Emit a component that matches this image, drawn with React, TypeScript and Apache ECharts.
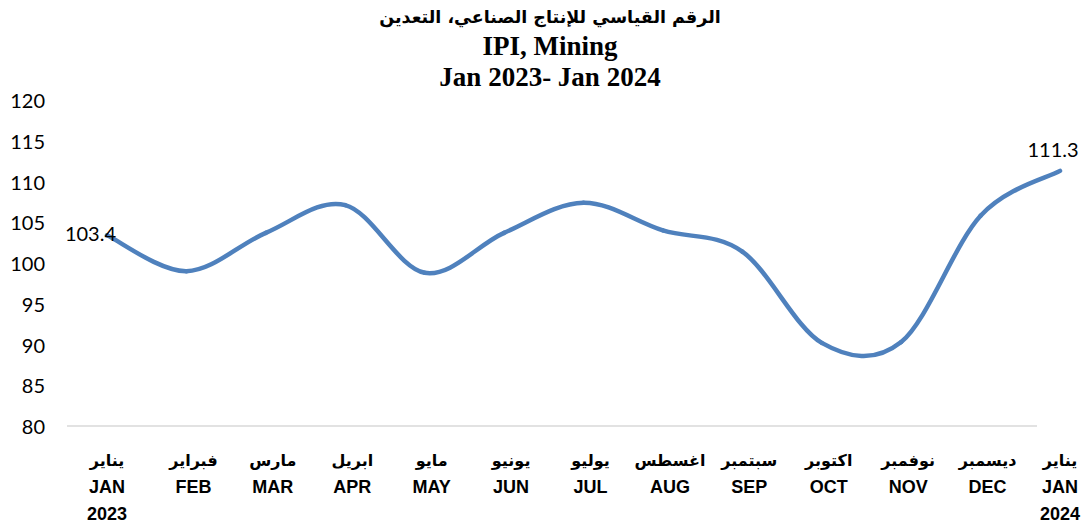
import React, { useEffect, useRef } from "react";
import * as echarts from "echarts";

const monthsAr = ["يناير", "فبراير", "مارس", "ابريل", "مايو", "يونيو", "يوليو", "اغسطس", "سبتمبر", "اكتوبر", "نوفمبر", "ديسمبر", "يناير"];
const monthsEn = ["JAN", "FEB", "MAR", "APR", "MAY", "JUN", "JUL", "AUG", "SEP", "OCT", "NOV", "DEC", "JAN"];
const years = ["2023", "", "", "", "", "", "", "", "", "", "", "", "2024"];
const ipiValues = [103.4, 99.0, 103.7, 107.1, 98.8, 103.7, 107.4, 104.0, 101.4, 90.2, 90.3, 105.8, 111.3];
const yTicks = { min: 80, max: 120, interval: 5 };
const labelledIndices = [0, 12];

const LINE_COLOR = "#4f81bd";

export default function App() {
  const ref = useRef<HTMLDivElement>(null);
  useEffect(() => {
    if (!ref.current) return;
    const chart = echarts.init(ref.current, undefined, { renderer: "svg" });
    const n = ipiValues.length;
    const categories = monthsEn.map((_, i) => ({
      value: `${i}`,
      textStyle: { padding: i === 0 || i === n - 1 ? 0 : [0, 0, 0, 14] },
    }));
    const renderItem = (params: any, api: any) => {
      const i = params.dataIndex;
      const pt = (j: number) => api.coord([Math.max(0, Math.min(n - 1, j)), ipiValues[Math.max(0, Math.min(n - 1, j))]]);
      const children: any[] = [];
      if (i < n - 1) {
        const p0 = pt(i - 1);
        const p1 = pt(i);
        const p2 = pt(i + 1);
        const p3 = pt(i + 2);
        const t = 1 / 6;
        children.push({
          type: "bezierCurve",
          shape: {
            x1: p1[0],
            y1: p1[1],
            x2: p2[0],
            y2: p2[1],
            cpx1: p1[0] + (p2[0] - p0[0]) * t,
            cpy1: p1[1] + (p2[1] - p0[1]) * t,
            cpx2: p2[0] - (p3[0] - p1[0]) * t,
            cpy2: p2[1] - (p3[1] - p1[1]) * t,
          },
          style: { stroke: LINE_COLOR, lineWidth: 4.5, fill: "none", lineCap: "round" },
        });
      }
      if (labelledIndices.includes(i)) {
        const p = pt(i);
        const first = i === 0;
        children.push({
          type: "text",
          x: first ? p[0] + 9 : p[0] - 7,
          y: first ? p[1] - 2 : p[1] - 12,
          style: {
            text: ipiValues[i].toFixed(1),
            fontFamily: "Lato",
            fontSize: 20,
            fill: "#000",
            align: first ? "right" : "center",
            verticalAlign: first ? "middle" : "bottom",
          },
        });
      }
      return { type: "group", children };
    };
    chart.setOption({
      animation: false,
      backgroundColor: "#ffffff",
      title: {
        left: 545,
        textAlign: "center",
        top: -2,
        text: "{ar|الرقم القياسي للإنتاج الصناعي، التعدين}\n{en|IPI, Mining}\n{en|Jan 2023- Jan 2024}",
        textStyle: {
          rich: {
            ar: { fontFamily: "DejaVu Sans", fontWeight: "bold", fontSize: 17.5, color: "#000", lineHeight: 27 },
            en: { fontFamily: "Liberation Serif", fontWeight: "bold", fontSize: 27, color: "#000", lineHeight: 31 },
          },
        },
      },
      grid: { left: 107, right: 29, top: 100, bottom: 103, containLabel: false },
      xAxis: {
        type: "category",
        data: categories,
        boundaryGap: false,
        axisLine: { show: false },
        axisTick: { show: false },
        axisLabel: {
          interval: 0,
          margin: 21,
          formatter: (v: string) => {
            const i = Number(v);
            let s = `{ar|${monthsAr[i]}}\n{en|${monthsEn[i]}}`;
            s += years[i] ? `\n{en|${years[i]}}` : `\n{en| }`;
            return s;
          },
          rich: {
            ar: { fontFamily: "DejaVu Sans", fontWeight: "bold", fontSize: 16, color: "#000", lineHeight: 26 },
            en: { fontFamily: "Liberation Sans", fontWeight: "bold", fontSize: 18, color: "#000", lineHeight: 27 },
          },
          verticalAlign: "top",
        },
      },
      yAxis: {
        type: "value",
        min: yTicks.min,
        max: yTicks.max,
        interval: yTicks.interval,
        axisLine: { show: false },
        axisTick: { show: false },
        splitLine: { show: false },
        axisLabel: {
          margin: 62,
          align: "right",
          fontFamily: "Lato",
          fontSize: 20,
          color: "#000",
        },
      },
      graphic: [
        {
          type: "line",
          shape: { x1: 67, y1: 426, x2: 1037, y2: 426 },
          style: { stroke: "#d9d9d9", lineWidth: 1.5 },
          silent: true,
        },
      ],
      series: [
        {
          type: "custom",
          renderItem,
          data: ipiValues.map((v, i) => [i, v]),
          encode: { x: 0, y: 1 },
          clip: false,
        },
      ],
    });
    return () => chart.dispose();
  }, []);
  return <div ref={ref} style={{ width: 1089, height: 529, position: "absolute", left: 0, top: 0 }} />;
}
